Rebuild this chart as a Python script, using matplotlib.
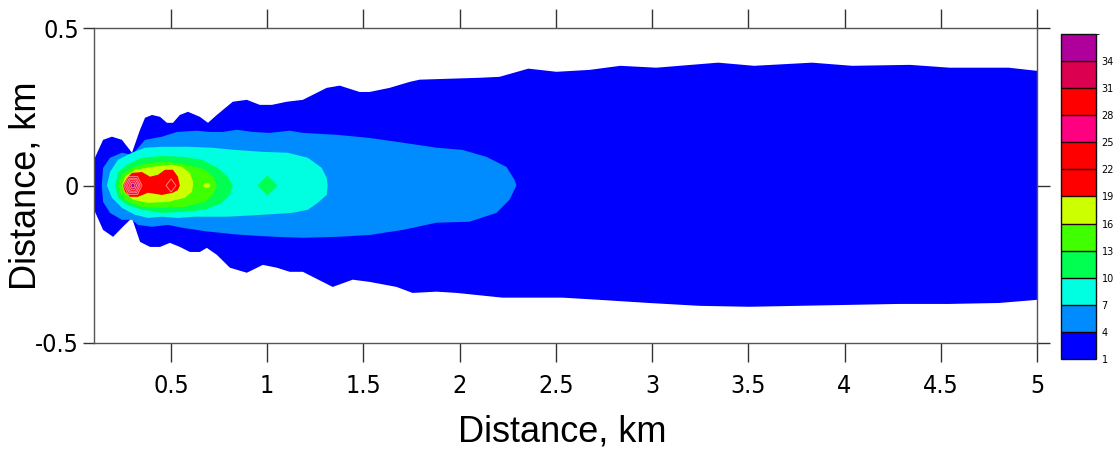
import matplotlib
matplotlib.use("Agg")
import matplotlib.pyplot as plt
from matplotlib import font_manager
from matplotlib.font_manager import FontProperties
from matplotlib.colors import ListedColormap, BoundaryNorm
from matplotlib.cm import ScalarMappable

# contour levels and fill colours (Surfer style legend)
levels = [1, 4, 7, 10, 13, 16, 19, 22, 25, 28, 31, 34, 37]
level_colors = ["#0000FF", "#008CFF", "#00FFE0", "#00FF50", "#40FF00", "#CCFF00",
                "#FF0000", "#FF0000", "#FF0080", "#FF0000", "#DC0050", "#B0009C"]

x_ticks = [0.5, 1, 1.5, 2, 2.5, 3, 3.5, 4, 4.5, 5]
x_tick_labels = ["0.5", "1", "1.5", "2", "2.5", "3", "3.5", "4", "4.5", "5"]
y_ticks = [-0.5, 0, 0.5]
y_tick_labels = ["-0.5", "0", "0.5"]

# contour outlines (km): upper edge left->right, lower edge right->left
level_1 = [(0.1, 0.082), (0.147, 0.145), (0.193, 0.155), (0.245, 0.145), (0.297, 0.104),
           (0.339, 0.177), (0.365, 0.215), (0.401, 0.224), (0.443, 0.218), (0.479, 0.199),
           (0.510, 0.199), (0.546, 0.224), (0.588, 0.234), (0.650, 0.218), (0.692, 0.199),
           (0.738, 0.224), (0.821, 0.266), (0.894, 0.272), (0.961, 0.256), (1.024, 0.256),
           (1.102, 0.266), (1.185, 0.272), (1.309, 0.310), (1.377, 0.317), (1.480, 0.297),
           (1.532, 0.297), (1.636, 0.310), (1.740, 0.329), (1.792, 0.336), (1.947, 0.339),
           (2.103, 0.342), (2.207, 0.345), (2.357, 0.371), (2.503, 0.361), (2.674, 0.367),
           (2.835, 0.380), (3.022, 0.374), (3.343, 0.390), (3.530, 0.380), (3.831, 0.390),
           (4.039, 0.380), (4.340, 0.383), (4.547, 0.374), (4.853, 0.374), (5.0, 0.364),
           (5.0, -0.363), (4.802, -0.373), (4.542, -0.376), (4.283, -0.376), (4.023, -0.379),
           (3.764, -0.382), (3.504, -0.385), (3.245, -0.382), (2.985, -0.373), (2.726, -0.363),
           (2.534, -0.356), (2.222, -0.356), (1.984, -0.341), (1.880, -0.337), (1.755, -0.341),
           (1.672, -0.322), (1.532, -0.306), (1.444, -0.299), (1.340, -0.322), (1.185, -0.274),
           (1.117, -0.274), (1.050, -0.261), (0.977, -0.252), (0.894, -0.277), (0.806, -0.261),
           (0.738, -0.220), (0.686, -0.198), (0.650, -0.211), (0.598, -0.211), (0.546, -0.195),
           (0.494, -0.182), (0.443, -0.195), (0.391, -0.195), (0.339, -0.179), (0.297, -0.103),
           (0.250, -0.131), (0.199, -0.163), (0.147, -0.141), (0.1, -0.077)]

level_4 = [(0.140, 0.0), (0.147, 0.056), (0.183, 0.088), (0.245, 0.104), (0.297, 0.097),
           (0.365, 0.145), (0.453, 0.155), (0.531, 0.170), (0.635, 0.174), (0.702, 0.170),
           (0.769, 0.170), (0.842, 0.177), (0.925, 0.170), (1.013, 0.167), (1.117, 0.174),
           (1.185, 0.167), (1.361, 0.161), (1.532, 0.151), (1.704, 0.136), (1.880, 0.120),
           (2.015, 0.113), (2.139, 0.091), (2.243, 0.059), (2.285, 0.018), (2.295, 0.0),
           (2.259, -0.045), (2.191, -0.087), (2.051, -0.115), (1.880, -0.118), (1.704, -0.141),
           (1.532, -0.157), (1.361, -0.163), (1.185, -0.166), (1.050, -0.163), (0.955, -0.160),
           (0.832, -0.155), (0.676, -0.145), (0.557, -0.134), (0.484, -0.125), (0.401, -0.131),
           (0.328, -0.125), (0.297, -0.109), (0.245, -0.109), (0.183, -0.087), (0.147, -0.052)]

level_7 = [(0.167, 0.0), (0.183, 0.043), (0.225, 0.082), (0.297, 0.104), (0.365, 0.120),
           (0.453, 0.123), (0.588, 0.123), (0.712, 0.120), (0.832, 0.113), (0.972, 0.107),
           (1.107, 0.104), (1.211, 0.088), (1.283, 0.056), (1.309, 0.024), (1.314, 0.0),
           (1.309, -0.030), (1.262, -0.055), (1.211, -0.077), (1.128, -0.087), (0.972, -0.093),
           (0.795, -0.099), (0.624, -0.099), (0.536, -0.103), (0.453, -0.099), (0.380, -0.103),
           (0.313, -0.093), (0.245, -0.071), (0.193, -0.039)]

level_10 = [(0.209, 0.0), (0.225, 0.043), (0.271, 0.066), (0.349, 0.088), (0.453, 0.094),
            (0.557, 0.091), (0.660, 0.082), (0.743, 0.056), (0.795, 0.028), (0.821, 0.0),
            (0.806, -0.030), (0.764, -0.055), (0.676, -0.077), (0.572, -0.083), (0.453, -0.087),
            (0.349, -0.077), (0.271, -0.061), (0.225, -0.039)]

level_13 = [(0.225, 0.0), (0.245, 0.034), (0.297, 0.056), (0.380, 0.072), (0.484, 0.075),
            (0.588, 0.066), (0.676, 0.050), (0.718, 0.028), (0.738, 0.0), (0.718, -0.030),
            (0.676, -0.052), (0.572, -0.068), (0.453, -0.071), (0.349, -0.068), (0.276, -0.052),
            (0.240, -0.030)]

level_16 = [(0.245, 0.0), (0.261, 0.028), (0.313, 0.050), (0.401, 0.059), (0.505, 0.066),
            (0.557, 0.059), (0.598, 0.040), (0.614, 0.012), (0.614, 0.0), (0.609, -0.020),
            (0.572, -0.039), (0.484, -0.052), (0.380, -0.055), (0.302, -0.045), (0.261, -0.023)]

level_19 = [(0.250, 0.0), (0.271, 0.024), (0.297, 0.040), (0.349, 0.043), (0.391, 0.028),
            (0.432, 0.034), (0.468, 0.050), (0.510, 0.050), (0.536, 0.028), (0.546, 0.0),
            (0.536, -0.014), (0.510, -0.023), (0.453, -0.030), (0.380, -0.023), (0.328, -0.036),
            (0.287, -0.036), (0.261, -0.020)]

# isolated patches
spot_16 = [(0.666, 0.0), (0.676, 0.007), (0.696, 0.007), (0.706, 0.0), (0.696, -0.007), (0.676, -0.007)]
spot_10 = [(0.949, 0.0), (1.001, 0.032), (1.053, 0.0), (1.001, -0.032)]
ring_22b = [(0.474, 0.0), (0.500, 0.021), (0.526, 0.0), (0.500, -0.021)]

# nested rings around the source peak (x = 0.30 km)
core_x = 0.302
core_levels = [22, 25, 28, 31, 34]
core_rx = [0.047, 0.038, 0.029, 0.020, 0.011]
core_ry = [0.029, 0.023, 0.018, 0.012, 0.007]
hexagon = [(-1.0, 0.0), (-0.5, 1.0), (0.5, 1.0), (1.0, 0.0), (0.5, -1.0), (-0.5, -1.0)]


def pick_tick_font():
    # the axis numbers in the original are set in a narrow face, use one if present
    fonts = font_manager.fontManager.ttflist
    for f in fonts:
        if f.name == "Liberation Sans Narrow" and f.weight in (400, "normal", "regular") and f.style == "normal":
            return FontProperties(fname=f.fname), 21
    for f in fonts:
        st = f.stretch if isinstance(f.stretch, (int, float)) else font_manager.stretch_dict.get(f.stretch, 500)
        if st < 500 and f.style == "normal" and f.weight in (400, "normal", "regular") and "Sans" in f.name:
            return FontProperties(fname=f.fname), 18
    return FontProperties(family="Liberation Sans"), 18


tick_fp, tick_size = pick_tick_font()
label_font = "Liberation Sans"

fig = plt.figure(figsize=(11.13, 4.54), dpi=100)
ax = fig.add_axes([0.0845, 0.2445, 0.8472, 0.6938])


def color_of(lev):
    return level_colors[levels.index(lev)]


def draw(poly, lev, edge=None):
    xs = [p[0] for p in poly]
    ys = [p[1] for p in poly]
    if edge is None:
        ax.fill(xs, ys, color=color_of(lev), lw=0, zorder=2)
    else:
        ax.fill(xs, ys, facecolor=color_of(lev), edgecolor=edge, lw=0.6, zorder=3)


for poly, lev in [(level_1, 1), (level_4, 4), (level_7, 7), (level_10, 10),
                  (level_13, 13), (level_16, 16), (level_19, 19), (spot_16, 16), (spot_10, 10)]:
    draw(poly, lev)

draw(ring_22b, 22, edge="#FF9090")
for lev, rx, ry in zip(core_levels, core_rx, core_ry):
    ring = [(core_x + hx * rx, hy * ry) for hx, hy in hexagon]
    draw(ring, lev, edge="#FF9090")

ax.set_xlim(0.1, 5)
ax.set_ylim(-0.5, 0.5)

ax.set_xticks(x_ticks)
ax.set_xticklabels(x_tick_labels)
ax.set_yticks(y_ticks)
ax.set_yticklabels(y_tick_labels)
for lab in ax.get_xticklabels() + ax.get_yticklabels():
    lab.set_fontproperties(tick_fp)
    lab.set_fontsize(tick_size)

ax.tick_params(axis="x", direction="out", top=True, bottom=True, length=13.5, width=1,
               color="#333333", pad=9)
ax.tick_params(axis="y", direction="out", left=True, right=True, length=8, width=1,
               color="#333333", pad=3)
for t in ax.yaxis.get_major_ticks():
    t.tick2line.set_markersize(9.5)

for sp in ax.spines.values():
    sp.set_color("#555555")
    sp.set_linewidth(1)

ax.set_xlabel("Distance, km", fontsize=26, family=label_font)
ax.set_ylabel("Distance, km", fontsize=26, family=label_font)
ax.xaxis.set_label_coords(0.497, -0.228)
ax.yaxis.set_label_coords(-0.054, 0.5)

# colour legend
cax = fig.add_axes([0.9533, 0.2093, 0.0314, 0.7159])
cmap = ListedColormap(level_colors)
norm = BoundaryNorm(levels, cmap.N)
cb = fig.colorbar(ScalarMappable(norm=norm, cmap=cmap), cax=cax, ticks=levels[:-1],
                  drawedges=True)
cb.ax.set_yticklabels([str(v) for v in levels[:-1]])
cb.ax.tick_params(length=0, labelsize=7, pad=4)
cb.outline.set_edgecolor("#111111")
cb.outline.set_linewidth(1)
cb.dividers.set_color("#220000")
cb.dividers.set_linewidth(1)

fig.savefig("out.png", dpi=100)
